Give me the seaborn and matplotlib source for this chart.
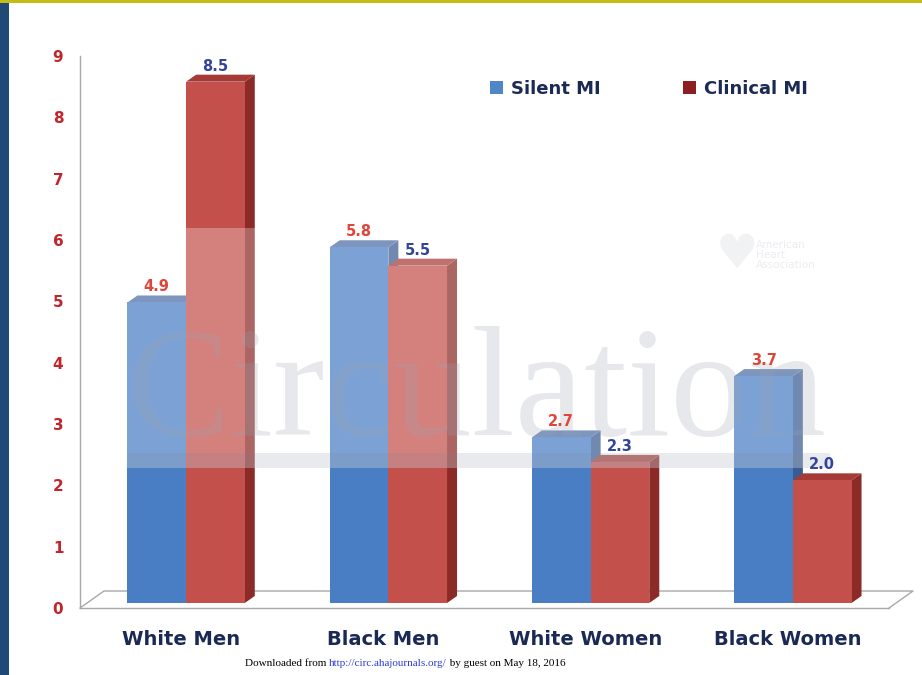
import matplotlib
matplotlib.use("Agg")
import matplotlib.pyplot as plt
import seaborn as sns
import pandas as pd
from matplotlib.patches import Polygon, Rectangle, Patch
from matplotlib.lines import Line2D

# ---------------- data ----------------
categories = ["White Men", "Black Men", "White Women", "Black Women"]
series = ["Silent MI", "Clinical MI"]
silent_mi = [4.9, 5.8, 2.7, 3.7]
clinical_mi = [8.5, 5.5, 2.3, 2.0]
yticks = [0, 1, 2, 3, 4, 5, 6, 7, 8, 9]

df = pd.DataFrame({
    "Group": categories * 2,
    "Rate": silent_mi + clinical_mi,
    "Type": [series[0]] * len(categories) + [series[1]] * len(categories),
})

# ---------------- style ----------------
sns.set_style("white")
plt.rcParams["font.family"] = ["DejaVu Sans"]

W, H = 922, 675
fig = plt.figure(figsize=(W / 100, H / 100), dpi=100)
fig.patch.set_facecolor("white")

AX_L, AX_R, AX_T, AX_B = 80, 889, 56, 608
ax = fig.add_axes([AX_L / W, (H - AX_B) / H, (AX_R - AX_L) / W, (AX_B - AX_T) / H])
ax.set_facecolor("none")

blue_front, blue_top, blue_side = "#4a7ec4", "#4d6ea6", "#3a5c92"
red_front, red_top, red_side = "#c4504b", "#a53b36", "#8c2a27"
label_red, label_blue, navy = "#e0453a", "#33449a", "#1b2a55"
tick_red = "#c0262c"
grid_grey = "#a8a8a8"

sns.barplot(data=df, x="Group", y="Rate", hue="Type", order=categories,
            hue_order=series, palette=[blue_front, red_front], width=0.58,
            saturation=1, errorbar=None, legend=False, ax=ax,
            edgecolor="none", linewidth=0)

ax.set_xlim(-0.5, len(categories) - 0.5)
ax.set_ylim(yticks[0], yticks[-1])

# pixel -> data units
pxx = (len(categories)) / (AX_R - AX_L)
pxy = (yticks[-1] - yticks[0]) / (AX_B - AX_T)

# 3D-like extrusion
SHIFT = 5          # bars stand a little inside the floor
DX, DY = 10, 7     # depth of extrusion in pixels
bars = list(ax.patches)
for p in bars:
    fc = matplotlib.colors.to_hex(p.get_facecolor())
    is_blue = fc.lower() == blue_front
    p.set_x(p.get_x() + SHIFT * pxx)
    p.set_y(p.get_y() + SHIFT * pxy)
    x0, y0 = p.get_x(), p.get_y()
    x1, y1 = x0 + p.get_width(), y0 + p.get_height()
    dx, dy = DX * pxx, DY * pxy
    zf = 3.0 if is_blue else 3.4
    p.set_zorder(zf)
    side = Polygon([(x1, y0), (x1 + dx, y0 + dy), (x1 + dx, y1 + dy), (x1, y1)],
                   closed=True, facecolor=blue_side if is_blue else red_side,
                   edgecolor="none", zorder=2.9 if is_blue else 3.3)
    top = Polygon([(x0, y1), (x0 + dx, y1 + dy), (x1 + dx, y1 + dy), (x1, y1)],
                  closed=True, facecolor=blue_top if is_blue else red_top,
                  edgecolor="none", zorder=2.9 if is_blue else 3.3)
    ax.add_patch(side)
    ax.add_patch(top)
    val = p.get_height()
    ax.annotate(f"{val:.1f}", xy=((x0 + x1) / 2, y1), xytext=(0, 8),
                textcoords="offset points", ha="center", va="baseline",
                fontsize=10.5, fontweight="bold",
                color=label_red if is_blue else label_blue, zorder=8)

# floor (3D base)
fx, fy = 24 * pxx, 17 * pxy
xl, xr = -0.5, len(categories) - 0.5
ax.add_line(Line2D([xl, xl + fx, xr + fx, xr], [0, fy, fy, 0],
                   color=grid_grey, lw=1.0, zorder=1, clip_on=False))

# watermark overlay
def dx_(px):
    return (px - AX_L) * pxx - 0.5

def dy_(py):
    return (AX_B - py) * pxy

ax.add_patch(Rectangle((dx_(127), dy_(453)), dx_(830) - dx_(127), dy_(228) - dy_(453),
                       facecolor="white", alpha=0.28, edgecolor="none", zorder=5))
ax.add_patch(Rectangle((dx_(127), dy_(468)), dx_(830) - dx_(127), dy_(453) - dy_(468),
                       facecolor="#c9ccd3", alpha=0.4, edgecolor="none", zorder=5))
ax.text(dx_(477), dy_(435), "Circulation", family="Liberation Serif",
        fontsize=112, color="#9aa2b2", alpha=0.24, ha="center", va="baseline",
        zorder=6)
ax.text(dx_(737), dy_(255), "\u2665", fontsize=34, color="#eceef1",
        ha="center", va="center", zorder=1)
ax.text(dx_(756), dy_(255), "American\nHeart\nAssociation", fontsize=7.5,
        color="#e4e6ea", ha="left", va="center", linespacing=1.0, zorder=1)

# axes cosmetics
sns.despine(ax=ax, top=True, right=True)
for s in ("left", "bottom"):
    ax.spines[s].set_color(grid_grey)
    ax.spines[s].set_linewidth(1.0)
ax.set_yticks(yticks)
ax.set_yticklabels([str(t) for t in yticks])
ax.tick_params(axis="y", which="major", direction="out", length=4, width=1,
               color=grid_grey, pad=8, labelsize=11, labelcolor=tick_red)
for lab in ax.get_yticklabels():
    lab.set_fontweight("bold")

ax.set_xticks([i - 0.5 for i in range(len(categories) + 1)])
ax.set_xticklabels([])
ax.set_xticks(list(range(len(categories))), minor=True)
ax.set_xticklabels(categories, minor=True)
ax.tick_params(axis="x", which="major", direction="out", length=5, width=1,
               color=grid_grey)
ax.tick_params(axis="x", which="minor", length=0, pad=16, labelsize=14,
               labelcolor=navy)
for lab in ax.get_xticklabels(minor=True):
    lab.set_fontweight("bold")
ax.set_xlabel("")
ax.set_ylabel("")

# legend
handles = [Patch(facecolor="#4f86c6", edgecolor="none"),
           Patch(facecolor="#8b1f22", edgecolor="none")]
leg = ax.legend(handles, series, ncol=2, frameon=False, loc="center left",
                bbox_to_anchor=(490 / W, (H - 89) / H),
                bbox_transform=fig.transFigure, borderpad=0, borderaxespad=0,
                handlelength=0.7, handleheight=0.7, handletextpad=0.45,
                columnspacing=4.6, prop={"weight": "bold", "size": 13})
for t in leg.get_texts():
    t.set_color(navy)

# page decorations
fig.add_artist(Rectangle((0, (H - 3) / H), 1, 3 / H, transform=fig.transFigure,
                         facecolor="#c4bd18", edgecolor="none", zorder=10))
fig.add_artist(Rectangle((0, 0), 9 / W, (H - 3) / H, transform=fig.transFigure,
                         facecolor="#1f4a78", edgecolor="none", zorder=10))

# footer
parts = [("Downloaded from ", "black"), ("http://circ.ahajournals.org/", "#2b3fd0"),
         (" by guest on May 18, 2016", "black")]
fig.canvas.draw()
renderer = fig.canvas.get_renderer()
texts = []
x = 0
for s, c in parts:
    t = fig.text(x, (H - 666) / H, s, family="Liberation Serif", fontsize=8,
                 color=c, ha="left", va="baseline")
    texts.append(t)
    w = t.get_window_extent(renderer).width / W
    x += w
total = x
start = (405 / W) - total / 2
x = start
for t in texts:
    t.set_x(x)
    x += t.get_window_extent(renderer).width / W

fig.savefig("out.png", dpi=100)
